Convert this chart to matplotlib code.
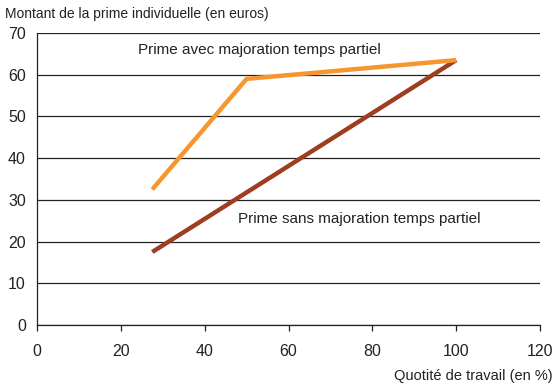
import matplotlib.pyplot as plt

# Data
quotite_avec = [27.5, 50, 100]
prime_avec = [32.5, 59, 63.5]
quotite_sans = [27.5, 100]
prime_sans = [17.5, 63.5]

X_TICKS = list(range(0, 121, 20))
Y_TICKS = list(range(0, 71, 10))

plt.rcParams['font.family'] = ['Liberation Sans', 'DejaVu Sans']
plt.rcParams['font.size'] = 10.5

fig = plt.figure(figsize=(5.59, 3.87), dpi=100)
ax = fig.add_axes([37 / 559, 62 / 387, 503 / 559, 292 / 387])

ax.plot(quotite_sans, prime_sans, color='#9e3d1f', lw=3.2, solid_capstyle='butt', zorder=3)
ax.plot(quotite_avec, prime_avec, color='#f7962f', lw=3.2, solid_capstyle='butt', zorder=3)

ax.set_xlim(0, 120)
ax.set_ylim(0, 70)
ax.set_xticks(X_TICKS)
ax.set_yticks(Y_TICKS)
ax.yaxis.grid(True, color='#222222', lw=0.9)
ax.set_axisbelow(True)

for s in ['top', 'right']:
    ax.spines[s].set_visible(False)
for s in ['left', 'bottom']:
    ax.spines[s].set_color('#222222')
    ax.spines[s].set_linewidth(0.9)

ax.tick_params(axis='y', length=0, pad=8, labelsize=11.5, colors='#222222')
ax.tick_params(axis='x', length=4, width=0.9, pad=10, labelsize=11.5, colors='#222222')

ax.text(24, 66, 'Prime avec majoration temps partiel', fontsize=11, va='center', color='#222222')
ax.text(48, 25.5, 'Prime sans majoration temps partiel', fontsize=11, va='center', color='#222222')

fig.text(5 / 559, 1 - 14 / 387, 'Montant de la prime individuelle (en euros)',
         fontsize=10, va='center', ha='left', color='#222222')
fig.text(553 / 559, 1 - 376 / 387, 'Quotité de travail (en %)',
         fontsize=10.5, va='center', ha='right', color='#222222')

fig.savefig('out.png', dpi=100)
